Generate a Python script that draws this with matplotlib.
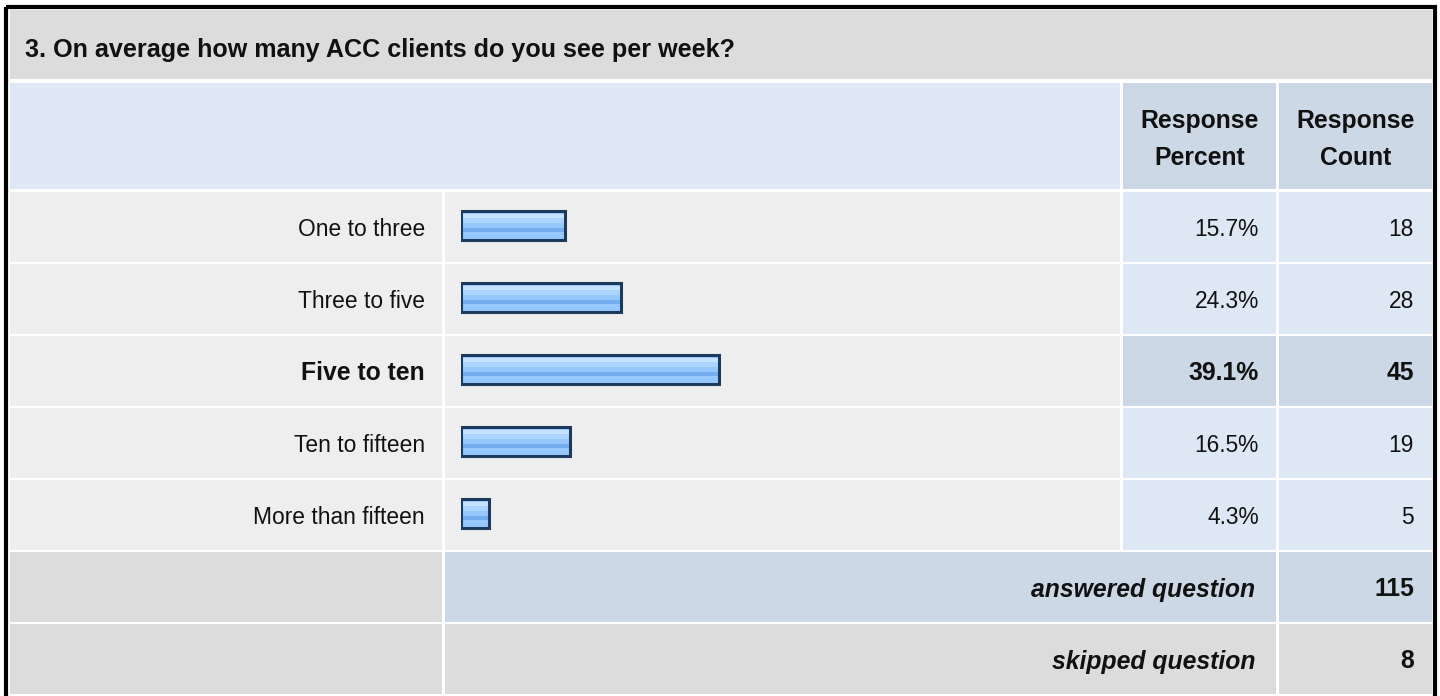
import matplotlib
matplotlib.use("Agg")
import matplotlib.pyplot as plt
from matplotlib.patches import Rectangle

# survey data
question = "3. On average how many ACC clients do you see per week?"
options = ["One to three", "Three to five", "Five to ten", "Ten to fifteen", "More than fifteen"]
percents = [15.7, 24.3, 39.1, 16.5, 4.3]
counts = [18, 28, 45, 19, 5]
answered = 115
skipped = 8

GRAY = "#dcdcdc"
ROW_BG = "#eeeeee"
LIGHT_BLUE = "#dee8f5"
MID_BLUE = "#ccd8e6"
FONT = ["Liberation Sans", "DejaVu Sans"]

W, H = 1440, 696
fig = plt.figure(figsize=(W / 100, H / 100), dpi=100)
fig.patch.set_facecolor("white")
bg = fig.add_axes([0, 0, 1, 1])
bg.set_xlim(0, W); bg.set_ylim(H, 0); bg.axis("off")


def cell(x0, x1, y0, y1, color):
    bg.add_patch(Rectangle((x0, y0), x1 - x0, y1 - y0, facecolor=color, edgecolor="none"))


def txt(x, y, s, ha="right", weight="normal", style="normal", size=None):
    # y is the text baseline in px
    if size is None:
        size = 17.8 if weight == "bold" else 16.4
    bg.text(x, y, s, ha=ha, va="baseline", fontsize=size, fontweight=weight,
            fontstyle=style, family=FONT, color="#111111")


# column edges (px)
C0, C1, C2, C3, C4, C5, C6, C7 = 10, 442, 445, 1120, 1123, 1276, 1279, 1432
ROW0, STEP, RH = 192, 72, 70
BASE0 = 236.5

# title + header
cell(C0, C7, 10, 79, GRAY)
txt(25, 57, question, ha="left", weight="bold", size=18.1)
cell(C0, C3, 83, 189, LIGHT_BLUE)
cell(C4, C5, 83, 189, MID_BLUE)
cell(C6, C7, 83, 189, MID_BLUE)
txt((C4 + C5) / 2, 128, "Response", ha="center", weight="bold")
txt((C4 + C5) / 2, 165, "Percent", ha="center", weight="bold")
txt((C6 + C7) / 2, 128, "Response", ha="center", weight="bold")
txt((C6 + C7) / 2, 165, "Count", ha="center", weight="bold")

top = max(percents)
for i, (lab, p, c) in enumerate(zip(options, percents, counts)):
    y0 = ROW0 + i * STEP
    yb = BASE0 + i * STEP
    hi = p == top
    cell(C0, C1, y0, y0 + RH, ROW_BG)
    cell(C2, C3, y0, y0 + RH, ROW_BG)
    cell(C4, C5, y0, y0 + RH, MID_BLUE if hi else LIGHT_BLUE)
    cell(C6, C7, y0, y0 + RH, MID_BLUE if hi else LIGHT_BLUE)
    w = "bold" if hi else "normal"
    txt(425, yb, lab, weight=w)
    txt(1259, yb, f"{p:.1f}%", weight=w)
    txt(1414, yb, str(c), weight=w)

# summary rows
y0 = ROW0 + 5 * STEP
yb = BASE0 + 5 * STEP
cell(C0, C1, y0, y0 + RH, GRAY)
cell(C2, C5, y0, y0 + RH, MID_BLUE)
cell(C6, C7, y0, y0 + RH, MID_BLUE)
txt(1255, yb, "answered question", weight="bold", style="italic")
txt(1414, yb, str(answered), weight="bold")
y0 = ROW0 + 6 * STEP
yb = BASE0 + 6 * STEP
cell(C0, C1, y0, y0 + RH, GRAY)
cell(C2, C5, y0, y0 + RH, GRAY)
cell(C6, C7, y0, y0 + RH, GRAY)
txt(1255, yb, "skipped question", weight="bold", style="italic")
txt(1414, yb, str(skipped), weight="bold")

# outer frame
bg.add_patch(Rectangle((5.5, 6.5), 1429, 700, facecolor="none", edgecolor="black", linewidth=3))

# bars in their own axes: 0..100 % across the bar column
bx0, bx1, by0, by1 = 461, 1121, 189, 189 + 5 * STEP
bax = fig.add_axes([bx0 / W, 1 - by1 / H, (bx1 - bx0) / W, (by1 - by0) / H])
bax.set_xlim(0, 100); bax.set_ylim(len(options) - 0.5, -0.5); bax.axis("off")
ys = list(range(len(options)))
px = 1 / STEP  # one pixel in y data units
bh = 29 * px
bax.barh(ys, percents, height=bh, color="#96c8fc", edgecolor="none")
for a, b, col in [(3, 7, "#c6e3ff"), (7, 12, "#aad4ff"), (17, 21, "#74aef2")]:
    off = ((a + b) / 2 - 14.5) * px
    bax.barh([y + off for y in ys], percents, height=(b - a) * px, color=col, edgecolor="none")
bax.barh(ys, percents, height=bh, color="none", edgecolor="#1c3a5e", linewidth=2.2)

fig.savefig("out.png", dpi=100)
